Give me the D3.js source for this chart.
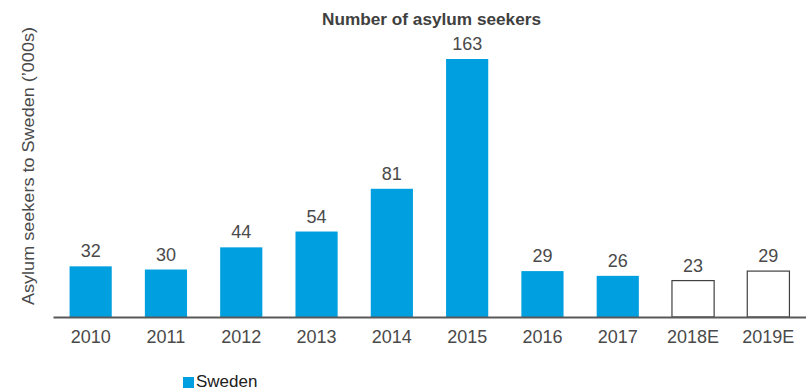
<!DOCTYPE html>
<html>
<head>
<meta charset="utf-8">
<script src="https://cdn.jsdelivr.net/npm/d3@7"></script>
<style>
  body { margin: 0; background: #fff; }
  text { font-family: "Liberation Sans", Arial, sans-serif; }
</style>
</head>
<body>
<div id="chart"></div>
<script>
var years = ["2010", "2011", "2012", "2013", "2014", "2015", "2016", "2017", "2018E", "2019E"];
var seekers = [32, 30, 44, 54, 81, 163, 29, 26, 23, 29];
var estimate = [false, false, false, false, false, false, false, false, true, true];

var width = 806,
  height = 390,
  left = 53,
  right = 806,
  base = 317;

var svg = d3.select("#chart").append("svg")
  .attr("width", width)
  .attr("height", height);

var x = d3.scaleBand()
  .domain(years)
  .range([left, right])
  .paddingInner(0.44)
  .paddingOuter(0.22);

var y = d3.scaleLinear()
  .domain([0, 163])
  .range([base, 59]);

// title (the original font is wider than ours, so stretch to its length)
svg.append("text")
  .attr("x", 322)
  .attr("y", 25)
  .attr("textLength", 219)
  .attr("lengthAdjust", "spacingAndGlyphs")
  .attr("font-size", 16.5)
  .attr("font-weight", "bold")
  .attr("fill", "#404040")
  .text("Number of asylum seekers");

// y axis title
svg.append("text")
  .attr("transform", "translate(34,305) rotate(-90)")
  .attr("textLength", 278)
  .attr("lengthAdjust", "spacingAndGlyphs")
  .attr("font-size", 17)
  .attr("fill", "#4a4a4a")
  .text("Asylum seekers to Sweden (\u2019000s)");

// bars
svg.selectAll("rect.bar")
  .data(years)
  .enter().append("rect")
  .attr("class", "bar")
  .attr("x", d => x(d))
  .attr("width", x.bandwidth())
  .attr("y", (d, i) => y(seekers[i]))
  .attr("height", (d, i) => base - y(seekers[i]))
  .attr("fill", (d, i) => estimate[i] ? "#fff" : "#009FDF")
  .attr("stroke", (d, i) => estimate[i] ? "#404040" : "none")
  .attr("stroke-width", 1.2);

// value labels
svg.selectAll("text.val")
  .data(years)
  .enter().append("text")
  .attr("class", "val")
  .attr("x", d => x(d) + x.bandwidth() / 2)
  .attr("y", (d, i) => y(seekers[i]) - 9)
  .attr("text-anchor", "middle")
  .attr("font-size", 18)
  .attr("fill", "#4a4a4a")
  .text((d, i) => seekers[i]);

// x axis
var xAxis = svg.append("g")
  .attr("transform", "translate(0," + base + ")")
  .call(d3.axisBottom(x).tickSize(0).tickPadding(13));
xAxis.select(".domain").attr("stroke", "#595959").attr("stroke-width", 2);
xAxis.selectAll("text")
  .attr("font-size", 18)
  .attr("font-family", "Liberation Sans, Arial, sans-serif")
  .attr("fill", "#4a4a4a");

// legend
svg.append("rect")
  .attr("x", 183).attr("y", 377)
  .attr("width", 11).attr("height", 11)
  .attr("fill", "#009FDF");
svg.append("text")
  .attr("x", 196).attr("y", 387)
  .attr("font-size", 17)
  .attr("fill", "#202020")
  .text("Sweden");
</script>
</body>
</html>
